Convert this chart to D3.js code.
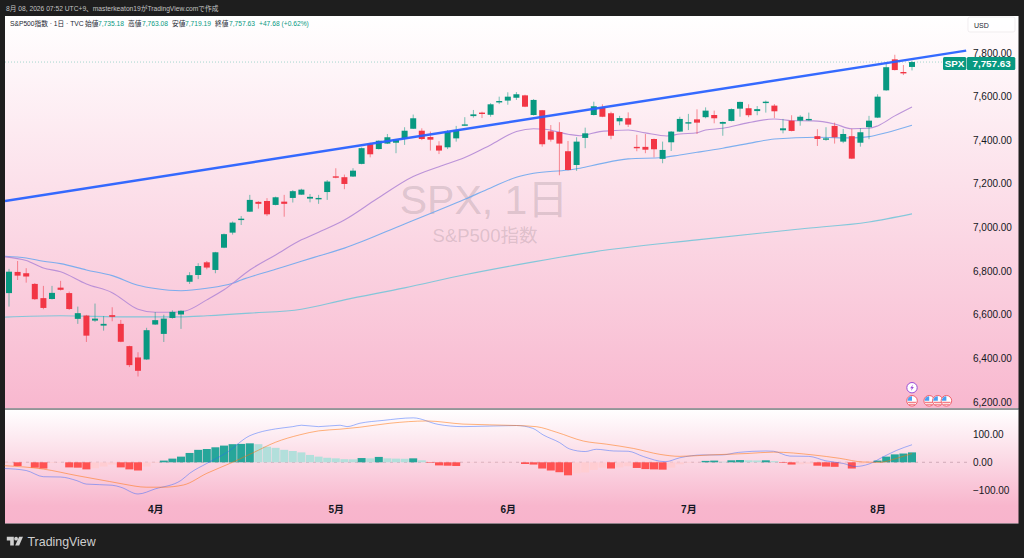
<!DOCTYPE html>
<html lang="ja">
<head>
<meta charset="utf-8">
<script src="https://cdn.jsdelivr.net/npm/d3@7"></script>
<style>
html,body{margin:0;padding:0;background:#1e1e1e;width:1024px;height:558px;overflow:hidden}
svg{display:block}
text{font-family:"Liberation Sans","Noto Sans CJK JP",sans-serif}
</style>
</head>
<body>
<svg id="c" width="1024" height="558"></svg>
<script>
const opens=[6699,6796,6790,6741,6676,6672,6724,6699,6581,6596,6573,6550,6598,6558,6456,6404,6395,6555,6512,6585,6601,6751,6782,6840,6805,6907,6976,7034,7072,7117,7121,7103,7118,7135,7150,7132,7131,7162,7234,7230,7233,7291,7381,7359,7384,7388,7405,7452,7443,7414,7375,7367,7408,7468,7510,7526,7516,7576,7581,7594,7605,7515,7537,7440,7437,7349,7286,7410,7515,7550,7523,7486,7500,7369,7369,7405,7314,7390,7439,7476,7495,7505,7515,7475,7488,7544,7546,7533,7571,7558,7445,7489,7489,7492,7418,7404,7465,7393,7418,7388,7459,7503,7628,7770,7712,7735.18];
const highs=[6810,6846,6813,6745,6732,6732,6755,6706,6637,6599,6651,6594,6634,6576,6458,6428,6540,6612,6600,6620,6620,6795,6836,6846,6888,6972,7027,7052,7149,7120,7134,7141,7149,7171,7177,7153,7149,7217,7271,7242,7271,7366,7388,7399,7428,7405,7459,7517,7454,7439,7395,7446,7465,7505,7538,7530,7569,7599,7619,7620,7608,7588,7538,7469,7482,7396,7413,7457,7576,7564,7530,7511,7527,7424,7428,7407,7393,7441,7507,7520,7541,7550,7535,7485,7545,7576,7564,7556,7581,7565,7497,7514,7514,7526,7450,7459,7480,7451,7452,7454,7511,7610,7755,7791,7744,7763.08];
const lows=[6637,6759,6747,6668,6625,6670,6711,6622,6558,6475,6567,6527,6570,6474,6360,6317,6393,6553,6475,6582,6535,6741,6763,6808,6790,6905,6967,7011,7071,7086,7052,7101,7049,7114,7149,7115,7108,7126,7225,7175,7231,7289,7321,7357,7382,7340,7378,7451,7400,7352,7336,7359,7393,7466,7503,7501,7507,7565,7562,7584,7551,7513,7370,7393,7239,7261,7259,7363,7513,7505,7404,7468,7460,7349,7340,7321,7294,7350,7437,7446,7428,7500,7477,7420,7486,7507,7505,7514,7526,7501,7431,7440,7466,7489,7373,7397,7384,7386,7313,7370,7404,7501,7626,7719,7698,7719.19];
const closes=[6797,6779,6775,6671,6631,6700,6714,6626,6607,6504,6582,6558,6590,6476,6369,6343,6529,6575,6582,6613,6618,6781,6823,6816,6886,6969,7022,7040,7126,7108,7060,7138,7108,7166,7173,7140,7135,7210,7228,7199,7260,7363,7335,7397,7413,7401,7443,7500,7405,7402,7352,7437,7446,7472,7518,7520,7564,7579,7599,7610,7553,7584,7381,7402,7384,7263,7393,7431,7555,7507,7420,7501,7471,7364,7356,7358,7355,7439,7497,7482,7480,7535,7500,7483,7542,7575,7514,7542,7576,7532,7454,7442,7507,7497,7405,7408,7413,7428,7315,7436,7489,7599,7734,7721,7707,7757.63];

const maFastIdx=[-0.5,2,4,6,9,12,15,17,19,20.5,23,25,28,31,34,36,39,42.75,47,50,53,56,59,61,62.3,65,66.4,68.7,70.2,72,74,76.5,78,80,81,83,86,89,91,93.5,96,98,100,101,103,105];
const maFast=[6865,6848,6814,6797,6741,6701,6625,6611,6611,6617,6668,6714,6805,6874,6943,6978,7034,7130,7233,7278,7320,7378,7439,7452,7450,7427,7420,7439,7443,7446,7433,7419,7428,7434,7446,7454,7480,7497,7489,7488,7474,7452,7454,7465,7511,7552];
const maMidIdx=[-0.5,2,4,6,9,12,15,17,20,23,26,27,31,34,36,39,46,53,56,59,61,65,66.4,68.7,72,76,78,80,83,86,89,94,98,100,102,105];
const maMid=[6868,6860,6845,6834,6805,6779,6735,6720,6710,6721,6744,6759,6808,6845,6869,6905,7016,7129,7181,7230,7248,7263,7271,7291,7314,7320,7332,7344,7363,7385,7405,7413,7410,7416,7434,7468];
const maSlowIdx=[-0.5,6,14,20,23,28,34,39,46,53,61,68,80,92,100,105];
const maSlow=[6589,6595,6590,6590,6595,6607,6625,6668,6723,6783,6842,6888,6943,6993,7025,7062];
const trendIdx=[-0.47,111.3];
const trendPrice=[7121,7810];

const hist=[-3,-13,-1,-19,-22,-2,-1.5,-18,-19,-25,-21,-15,-8,-18,-25,-29,-15,-2,6,13,20,33,44,47,53,59,64,65,67,64,55,51,44,40,35,26,20,16,14,11,10.5,15,14,19,14,13,12.5,14,7,-2,-11,-12,-13,-1,-1,-1,-1,-1,-1,-0.5,-6,-8,-22,-29,-35,-46,-39,-36,-27,-19,-22,-18,-14,-20,-24,-25,-26,-19,-7,-2,-1,5,6,2,7,8,7,6.5,7,4,-2,-8,-7,-5,-12,-15,-16,-7,-22,-7,-3,6,20,28,31,35];
const macdIdx=[-0.5,2,4,6,7.9,9,12,13,15,17,20,21,23,25.3,28,29,31,33,34,36,38.5,39.3,40.8,43.5,47,49.9,52.8,59,60.9,62.1,64,65.2,67,68.3,70.3,72,73.8,76.3,78,80.7,82.9,84.8,88,88.9,90.8,93,95,97,98.4,100,101.7,103.2,105];
const macd=[-22,-29,-51,-52,-65,-77,-81,-88,-112,-94,-64,-39,-4,34,94,105,118,126,131,126,131,126,138,148,157,134,126,130,120,97,70,47,38,46,40,39,20,2,16,26,26,35,40,39,22,21,5,-4,-15,-6,20,42,62];
const signalIdx=[-0.5,4,7.9,11.7,13.3,16,17.9,20.3,23,26,28.4,31,33.8,36,38.5,40.8,44.3,48.6,52.8,59,61.3,63.7,66.8,69.5,72.6,75.7,78,81.5,85.8,88.9,93.5,96.6,99.3,101.3,103.2,105];
const signal=[-12,-24,-47,-68,-77,-88,-88,-80,-39,0,34,71,97,111,117,124,138,146,135,130,126,106,75,64,49,28,21,26,31,36,26,14,1,0,14,31];

const priceTicks=[7800,7600,7400,7200,7000,6800,6600,6400,6200];
const macdTicks=[100,0,-100];
const monthIdx=[17,38,58,79,101];
const monthLabels=["4月","5月","6月","7月","8月"];
const eventFlagIdx=[105,107,108,109];
const eventBoltIdx=[105];
const lastPrice=7757.63;

const UP="#089981",DOWN="#f23645";
const svg=d3.select("#c");
const defs=svg.append("defs");
function grad(id,stops){
  const g=defs.append("linearGradient").attr("id",id).attr("x1",0).attr("x2",0).attr("y1",0).attr("y2",1);
  stops.forEach(([o,c])=>g.append("stop").attr("offset",o).attr("stop-color",c));
}
grad("gMain",[[0,"#ffffff"],[1,"#f8b8cf"]]);
grad("gSub",[[0,"#ffffff"],[0.85,"#f8b6cd"],[1,"#f8b4cc"]]);

const L=5,R=1018.5,T=16,MB=408,ST=409.5,SB=523;
const x=d3.scaleLinear().domain([0,105]).range([9,912]);
const y=d3.scaleLinear().domain([6200,7800]).range([402,52.8]);
const ym=d3.scaleLinear().domain([-100,100]).range([490.6,434]);

svg.append("rect").attr("x",L).attr("y",T).attr("width",R-L).attr("height",MB-T).attr("fill","url(#gMain)");
svg.append("rect").attr("x",L).attr("y",ST).attr("width",R-L).attr("height",SB-ST).attr("fill","url(#gSub)");
svg.append("rect").attr("x",L).attr("y",MB).attr("width",R-L).attr("height",1.5).attr("fill","#9a9a9e");
svg.append("rect").attr("x",L).attr("y",SB).attr("width",R-L).attr("height",1).attr("fill","#8f7f88");

const clip=defs.append("clipPath").attr("id","cp");
clip.append("rect").attr("x",L).attr("y",T).attr("width",R-L).attr("height",MB-T);

// header
svg.append("text").attr("x",6).attr("y",10.5).attr("font-size",6.7).attr("fill","#c4c4c4")
  .text("8月 08, 2026 07:52 UTC+9、masterkeaton19がTradingView.comで作成");

// legend
const leg=svg.append("g").attr("font-size",6.7);
const legend=[[10,"S&P500指数 · 1日 · TVC","#222631"],[85,"始値","#222631"],[98,"7,735.18",UP],[128,"高値","#222631"],[142,"7,763.08",UP],[172,"安値","#222631"],[185,"7,719.19",UP],[215,"終値","#222631"],[229,"7,757.63",UP],[259,"+47.68 (+0.62%)",UP]];
leg.selectAll("text").data(legend).join("text").attr("x",d=>d[0]).attr("y",26).attr("fill",d=>d[2]).text(d=>d[1]);

// watermark
svg.append("text").attr("x",484).attr("y",214).attr("text-anchor","middle").attr("font-size",41).attr("fill","#7d7078").attr("fill-opacity",.24).text("SPX, 1日");
svg.append("text").attr("x",485).attr("y",242).attr("text-anchor","middle").attr("font-size",18.5).attr("fill","#7d7078").attr("fill-opacity",.24).text("S&P500指数");

// last-price line
svg.append("line").attr("x1",L).attr("x2",943).attr("y1",y(lastPrice)).attr("y2",y(lastPrice)).attr("stroke","#39b09a").attr("stroke-opacity",.45).attr("stroke-dasharray","1 2");

const main=svg.append("g").attr("clip-path","url(#cp)");
function maLine(g,idx,vals,sc,color,w,op,curve){
  const l=d3.line().x(d=>x(d[0])).y(d=>sc(d[1])).curve(curve||d3.curveMonotoneX);
  g.append("path").attr("d",l(idx.map((v,i)=>[v,vals[i]]))).attr("fill","none").attr("stroke",color).attr("stroke-width",w).attr("stroke-opacity",op);
}
maLine(main,maSlowIdx,maSlow,y,"#6fc4d8",1.1,.85);
maLine(main,maMidIdx,maMid,y,"#6fa8ee",1.1,.9);
maLine(main,maFastIdx,maFast,y,"#b48ad6",1.1,.9);

// candles
const cd=opens.map((o,i)=>({i,o,h:highs[i],l:lows[i],c:closes[i],col:closes[i]>=o?UP:DOWN}));
const cg=main.selectAll("g.k").data(cd).join("g").attr("class","k");
cg.append("line").attr("x1",d=>x(d.i)).attr("x2",d=>x(d.i)).attr("y1",d=>y(d.h)).attr("y2",d=>y(d.l)).attr("stroke",d=>d.col).attr("stroke-width",1).attr("stroke-opacity",.55);
cg.append("rect").attr("x",d=>x(d.i)-3).attr("width",6).attr("y",d=>y(Math.max(d.o,d.c))).attr("height",d=>Math.max(1.4,Math.abs(y(d.o)-y(d.c)))).attr("fill",d=>d.col);

// trend line
maLine(main,trendIdx,trendPrice,y,"#2962ff",2.5,.95,d3.curveLinear);

// macd zero line
svg.append("line").attr("x1",L).attr("x2",967).attr("y1",ym(0)).attr("y2",ym(0)).attr("stroke","#c09aa8").attr("stroke-opacity",.7).attr("stroke-dasharray","3 4");

// histogram
function histColor(v,i){
  const p=i>0?hist[i-1]:v;
  if(v>=0) return v>p?"#26a69a":"#b2dfdb";
  return v<p?"#ff5252":"#ffcdd2";
}
svg.append("g").selectAll("rect").data(hist).join("rect")
 .attr("x",(d,i)=>x(i)-4).attr("width",8)
 .attr("y",d=>Math.min(ym(d),ym(0))).attr("height",d=>Math.abs(ym(d)-ym(0)))
 .attr("fill",(d,i)=>histColor(d,i));
const sub=svg.append("g");
maLine(sub,macdIdx,macd,ym,"#2962ff",1,.45);
maLine(sub,signalIdx,signal,ym,"#ff6d00",1,.5);

// axes
const fmt=d3.format(",.2f");
function styleAxis(g){
  g.select(".domain").remove();
  g.selectAll(".tick line").remove();
  g.selectAll("text").attr("fill","#131722").attr("font-family",'"Liberation Sans","Noto Sans CJK JP",sans-serif');
}
svg.append("g").attr("transform","translate(973,0)").attr("font-size",10)
  .call(d3.axisRight(y).tickValues(priceTicks).tickFormat(fmt).tickSize(0).tickPadding(0)).call(styleAxis);
svg.append("g").attr("transform","translate(973,0)").attr("font-size",10)
  .call(d3.axisRight(ym).tickValues(macdTicks).tickFormat(fmt).tickSize(0).tickPadding(0)).call(styleAxis);
const xa=svg.append("g").attr("transform","translate(0,505.5)").attr("font-size",10)
  .call(d3.axisBottom(x).tickValues(monthIdx).tickFormat((d,i)=>monthLabels[i]).tickSize(0).tickPadding(0)).call(styleAxis);
xa.selectAll("text").attr("font-weight",700);

// USD
svg.append("rect").attr("x",968).attr("y",17).attr("width",47).attr("height",15).attr("rx",2).attr("fill","#fff").attr("fill-opacity",.6).attr("stroke","#e8e2e5").attr("stroke-width",.6);
svg.append("text").attr("x",974).attr("y",27.5).attr("font-size",7).attr("fill","#222631").text("USD");

// last-price tags
const ty=y(lastPrice);
svg.append("rect").attr("x",943).attr("y",ty-5).attr("width",23.3).attr("height",13).attr("rx",1.5).attr("fill",UP);
svg.append("rect").attr("x",966.8).attr("y",ty-5).attr("width",48.5).attr("height",13).attr("rx",1.5).attr("fill",UP);
svg.append("text").attr("x",954.6).attr("y",ty+5.3).attr("text-anchor","middle").attr("font-size",9.8).attr("font-weight",700).attr("fill","#fff").text("SPX");
svg.append("text").attr("x",972.5).attr("y",ty+5.3).attr("font-size",9.8).attr("font-weight",700).attr("fill","#fff").text(fmt(lastPrice));

// event icons
eventBoltIdx.forEach(i=>{
  const g=svg.append("g").attr("transform",`translate(${x(i)},387.7)`);
  g.append("circle").attr("r",5.2).attr("fill","#fff").attr("stroke","#9c4fd6").attr("stroke-width",1);
  g.append("path").attr("d","M1.1,-3.2 L-1.9,0.5 L-0.2,0.5 L-1.1,3.2 L1.9,-0.6 L0.2,-0.6 Z").attr("fill","#9c4fd6");
});
eventFlagIdx.forEach(i=>{
  const g=svg.append("g").attr("transform",`translate(${x(i)},400.8)`);
  g.append("circle").attr("r",5.3).attr("fill","#fff").attr("stroke","#f0616d").attr("stroke-width",1);
  g.append("path").attr("d","M0,0 L0,-4.6 A4.6,4.6 0 0 0 -4.6,0 Z").attr("fill","#4a9ff0");
  g.append("rect").attr("x",-4.2).attr("y",1).attr("width",8.4).attr("height",1).attr("fill","#f0616d");
  g.append("rect").attr("x",-3).attr("y",3).attr("width",6).attr("height",.9).attr("fill","#f0616d");
});

// footer logo
const lg=svg.append("g").attr("transform","translate(6.8,536.8)").attr("fill","#d0d0d0");
lg.append("path").attr("d","M0,0 H7 V8.8 H3.4 V3.6 H0 Z");
lg.append("circle").attr("cx",9.3).attr("cy",1.9).attr("r",1.9);
lg.append("path").attr("d","M12.3,0 H16.2 L12.4,8.8 H8.4 Z");
svg.append("text").attr("x",27.5).attr("y",545.5).attr("font-size",12.4).attr("fill","#cfcfcf").text("TradingView");
</script>
</body>
</html>
